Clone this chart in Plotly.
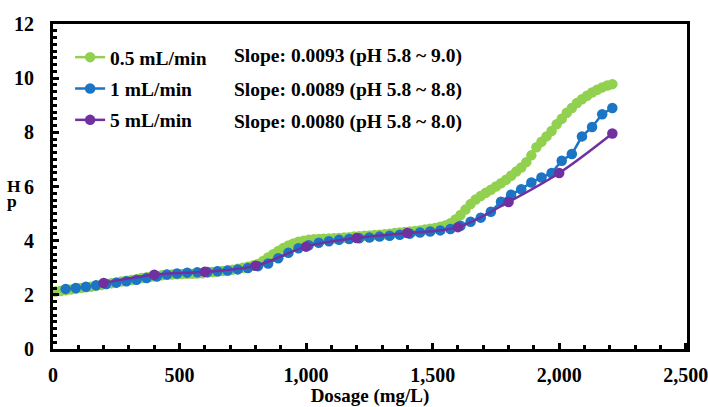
import plotly.graph_objects as go

# ---- data ----
green_x = [10, 30, 50, 70, 90, 110, 130, 150, 170, 190, 210, 230, 250, 270, 290, 310, 330, 350, 370, 390,
           410, 430, 450, 470, 490, 510, 530, 550, 570, 590, 610, 630, 650, 670, 690, 710, 730, 750, 770, 790,
           810, 830, 850, 870, 890, 910, 930, 950, 970, 990, 1010, 1030, 1050, 1070, 1090, 1110, 1130, 1150,
           1170, 1190, 1210, 1230, 1250, 1270, 1290, 1310, 1330, 1350, 1370, 1390, 1410, 1430, 1450, 1470,
           1490, 1510, 1530, 1550, 1570, 1590, 1610, 1630, 1650, 1670, 1690, 1710, 1730, 1750, 1770, 1790,
           1810, 1830, 1850, 1870, 1890, 1910, 1930, 1950, 1970, 1990, 2010, 2030, 2050, 2070, 2090, 2110,
           2130, 2150, 2170, 2190, 2210]
green_y = [2.12, 2.14, 2.17, 2.20, 2.22, 2.25, 2.28, 2.30, 2.33, 2.36, 2.40, 2.43, 2.46, 2.49, 2.52, 2.55,
           2.58, 2.62, 2.65, 2.68, 2.70, 2.72, 2.74, 2.75, 2.76, 2.77, 2.78, 2.78, 2.79, 2.80, 2.82, 2.84,
           2.86, 2.88, 2.90, 2.93, 2.96, 3.00, 3.04, 3.08, 3.14, 3.25, 3.38, 3.50, 3.62, 3.73, 3.82, 3.90,
           3.96, 4.00, 4.03, 4.05, 4.06, 4.07, 4.08, 4.09, 4.10, 4.12, 4.13, 4.15, 4.16, 4.18, 4.19, 4.21,
           4.22, 4.24, 4.26, 4.28, 4.30, 4.32, 4.34, 4.36, 4.38, 4.41, 4.44, 4.47, 4.51, 4.56, 4.64, 4.78,
           4.95, 5.15, 5.35, 5.52, 5.65, 5.77, 5.88, 6.00, 6.12, 6.25, 6.40, 6.55, 6.70, 6.90, 7.15, 7.45,
           7.65, 7.85, 8.05, 8.30, 8.50, 8.72, 8.90, 9.08, 9.22, 9.35, 9.47, 9.57, 9.66, 9.73, 9.78]

blue_x = [50, 90, 130, 170, 210, 250, 290, 330, 370, 410, 450, 490, 530, 570, 610, 650, 690, 730, 770, 810,
          850, 890, 930, 970, 1010, 1050, 1090, 1130, 1170, 1210, 1250, 1290, 1330, 1370, 1410, 1450, 1490,
          1530, 1570, 1610, 1650, 1690, 1730, 1770, 1810, 1850, 1890, 1930, 1970, 2010, 2050, 2090, 2130,
          2170, 2210]
blue_y = [2.22, 2.25, 2.30, 2.35, 2.40, 2.45, 2.50, 2.56, 2.62, 2.68, 2.75, 2.79, 2.82, 2.83, 2.84, 2.87,
          2.90, 2.94, 2.99, 3.06, 3.16, 3.35, 3.55, 3.72, 3.83, 3.92, 3.98, 4.03, 4.06, 4.09, 4.12, 4.15,
          4.18, 4.22, 4.26, 4.30, 4.34, 4.38, 4.43, 4.55, 4.70, 4.85, 5.07, 5.44, 5.70, 5.90, 6.15, 6.33,
          6.50, 6.95, 7.20, 7.85, 8.20, 8.67, 8.90]

purple_x = [200, 400, 600, 800, 1000, 1200, 1400, 1600, 1800, 2000, 2210]
purple_y = [2.44, 2.74, 2.85, 3.07, 3.78, 4.10, 4.28, 4.50, 5.43, 6.50, 7.96]

series_names = ["0.5 mL/min", "1 mL/min", "5 mL/min"]
slope_texts = ["Slope: 0.0093 (pH 5.8 ~ 9.0)",
               "Slope: 0.0089 (pH 5.8 ~ 8.8)",
               "Slope: 0.0080 (pH 5.8 ~ 8.0)"]
x_title = "Dosage (mg/L)"
y_title_parts = ["H", "p"]

GREEN = "#92D050"
BLUE = "#1B75C4"
PURPLE = "#7030A0"
FONT = "Liberation Serif, Times New Roman, serif"

fig = go.Figure()
fig.add_trace(go.Scatter(x=green_x, y=green_y, mode="lines+markers", name=series_names[0],
                         legendgroup="g", line=dict(color=GREEN, width=2.5),
                         marker=dict(color=GREEN, size=10.5)))
fig.add_trace(go.Scatter(x=blue_x, y=blue_y, mode="lines+markers", name=series_names[1],
                         legendgroup="b", line=dict(color=BLUE, width=2.5),
                         marker=dict(color=BLUE, size=10.5)))
fig.add_trace(go.Scatter(x=purple_x, y=purple_y, mode="lines+markers", name=series_names[2],
                         legendgroup="p", line=dict(color=PURPLE, width=2.5, shape="spline"),
                         marker=dict(color=PURPLE, size=10.5)))

axis_common = dict(showline=True, linewidth=3, linecolor="black", mirror=True, automargin=False,
                   showgrid=False, zeroline=False, ticks="inside", ticklen=6, tickwidth=2.5,
                   tickcolor="black",
                   tickfont=dict(family=FONT, size=20, color="black", weight="bold"))

fig.update_xaxes(range=[0, 2505], dtick=500, tickformat=",d", ticklabelstandoff=6,
                 ticklabeloverflow="allow",
                 minor=dict(ticks="inside", dtick=100, ticklen=4, tickwidth=2.5, tickcolor="black"),
                 title=dict(text=x_title, font=dict(family=FONT, size=19, color="black", weight="bold"),
                            standoff=4),
                 **axis_common)
fig.update_yaxes(range=[0, 12], dtick=2, ticklabelstandoff=12,
                 minor=dict(ticks="inside", dtick=0.25, ticklen=4, tickwidth=2.5, tickcolor="black"),
                 **axis_common)

for i, t in enumerate(slope_texts):
    fig.add_annotation(text=t, xref="paper", yref="paper", x=0.282, y=[0.9, 0.796, 0.698][i],
                       xanchor="left", yanchor="middle", showarrow=False,
                       font=dict(family=FONT, size=19.5, color="black", weight="bold"))

for txt, yy in zip(y_title_parts, [0.502, 0.454]):
    fig.add_annotation(text=txt, xref="paper", yref="paper", x=-0.076, y=yy,
                       xanchor="left", yanchor="middle", showarrow=False,
                       font=dict(family=FONT, size=17.5, color="black", weight="bold"))

fig.update_layout(
    width=708, height=407,
    margin=dict(l=53, r=21, t=24, b=58),
    plot_bgcolor="white", paper_bgcolor="white",
    showlegend=True,
    legend=dict(x=0.027, y=0.957, xanchor="left", yanchor="top", bgcolor="rgba(0,0,0,0)",
                font=dict(family=FONT, size=19.5, color="black", weight="bold"),
                tracegroupgap=3, itemwidth=30),
)

fig.write_html("out.html", config={"displayModeBar": False},
               post_script="document.body.style.margin='0';document.body.style.overflow='hidden';")
